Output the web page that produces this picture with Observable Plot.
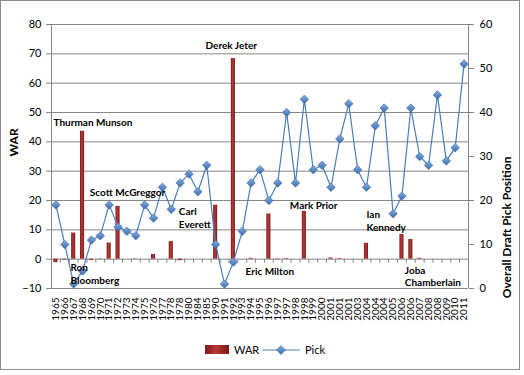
<!DOCTYPE html>
<html>
<head>
<meta charset="utf-8">
<script src="https://cdn.jsdelivr.net/npm/d3@7"></script>
<script src="https://cdn.jsdelivr.net/npm/@observablehq/plot@0.6"></script>
<style>
  html, body { margin: 0; padding: 0; background: #fff; }
  #wrap { position: relative; width: 524px; height: 375px; overflow: hidden; font-family: Lato, "Liberation Sans", sans-serif; }
  #border { position: absolute; left: 0; top: 0; width: 518px; height: 368px; border: 1px solid #8c8c8c; }
  #chart { position: absolute; left: 0; top: 0; }
  #legend { position: absolute; left: 0; top: 335px; }
</style>
</head>
<body>
<div id="wrap">
  <div id="border"></div>
  <div id="chart"></div>
  <svg id="legend" width="524" height="30"></svg>
</div>
<script>
// ---- data ----
const years = ["1965","1966","1967","1968","1969","1970","1971","1972","1973","1974",
  "1975","1976","1977","1978","1978","1980","1984","1985","1990","1991",
  "1992","1993","1994","1995","1996","1997","1997","1998","1998","1999",
  "2000","2001","2001","2001","2003","2004","2004","2004","2005","2006",
  "2006","2007","2008","2008","2009","2010","2011"];
const warValues = [-1.2,-0.3,8.9,43.6,-0.4,-0.1,5.5,18.0,0,-0.1,
  0,1.6,0,6.0,-0.5,0,0,0,18.4,0,
  68.4,0,0.3,0,15.4,-0.2,0.2,0,16.3,0,
  0,0.4,0.2,0,0,5.4,0,0,0,8.4,
  6.7,0.3,0,0,0,0,0];
const pickValues = [19,10,1,4,11,12,19,14,13,12,
  19,16,23,18,24,26,22,28,10,1,
  6,13,24,27,20,24,40,24,43,27,
  28,23,34,42,27,23,37,41,17,21,
  41,30,28,44,29,32,51];
const warTicks = [-10,0,10,20,30,40,50,60,70,80];
const pickTicks = [0,10,20,30,40,50,60];
const annoText = ["Thurman Munson","Ron\nBloomberg","Scott McGreggor","Carl\nEverett","Derek Jeter","Eric Milton","Mark Prior","Ian\nKennedy","Joba\nChamberlain"];
const annoX = [-0.27, 1.64, 3.82, 13.85, 16.86, 21.37, 26.36, 35.0, 39.32];
const annoY = [46.6, -4.85, 22.8, 14.2, 72.9, -4.1, 18.6, 13.2, -5.7];

// ---- derived ----
const data = years.map((y, i) => ({i, year: y, war: warValues[i], pick: pickValues[i]}));
const pickToWar = p => -10 + p * 90 / 60;   // right axis (0..60) mapped onto left axis (-10..80)
const annos = annoText.map((t, k) => ({t, x: annoX[k], y: annoY[k]}));
const diamond = {
  draw(ctx, size) {
    const s = Math.sqrt(size / 2);
    ctx.moveTo(0, -s); ctx.lineTo(s, 0); ctx.lineTo(0, s); ctx.lineTo(-s, 0); ctx.closePath();
  }
};
const grid = "#868686";

const chart = Plot.plot({
  width: 524,
  height: 340,
  marginLeft: 51,
  marginRight: 56,
  marginTop: 24,
  marginBottom: 52,
  x: {domain: [-0.5, years.length - 0.5]},
  y: {domain: [-10, 80]},
  style: {fontFamily: "Lato, 'Liberation Sans', sans-serif", fontSize: "11px", color: "#000", background: "transparent"},
  marks: [
    Plot.ruleY(warTicks, {stroke: grid, strokeWidth: 1}),
    Plot.ruleX([-0.5, years.length - 0.5], {stroke: grid}),
    Plot.ruleX(d3.range(years.length + 1).map(i => i - 0.5), {y1: 0, y2: -1.4, stroke: grid}),
    Plot.axisY(warTicks, {anchor: "left", tickSize: 5, tickPadding: 5, stroke: grid, label: null, fontSize: 11}),
    Plot.axisY(pickTicks.map(pickToWar), {anchor: "right", tickSize: 5, tickPadding: 6, stroke: grid, label: null, fontSize: 11,
      tickFormat: d => String(Math.round((d + 10) * 60 / 90))}),
    Plot.axisX(d3.range(years.length), {anchor: "bottom", tickSize: 0, tickPadding: 9, tickRotate: -90, label: null, fontSize: 10,
      tickFormat: i => years[i]}),
    Plot.rect(data, {x1: d => d.i - 0.23, x2: d => d.i + 0.23, y1: 0, y2: "war", fill: "url(#barGrad)"}),
    Plot.line(data, {x: "i", y: d => pickToWar(d.pick), stroke: "#4A7EBB", strokeWidth: 1.2}),
    Plot.dot(data, {x: "i", y: d => pickToWar(d.pick), symbol: diamond, r: 3.4, fill: "url(#dotGrad)", stroke: "#3B679E", strokeWidth: 0.6}),
    Plot.text(annos, {x: "x", y: "y", text: "t", textAnchor: "start", lineAnchor: "middle", fontWeight: "bold", fontSize: 10, lineHeight: 1.25, fill: "#000"}),
    Plot.text(["WAR"], {frameAnchor: "left", dx: -37, rotate: -90, fontWeight: "bold", fontSize: 12, fill: "#000"}),
    Plot.text(["Overall Draft Pick Position"], {frameAnchor: "right", dx: 39, rotate: -90, fontWeight: "bold", fontSize: 12, fill: "#000"})
  ]
});

function addDefs(svgSel) {
  const defs = svgSel.insert("defs", ":first-child");
  const bg = defs.append("linearGradient").attr("id", "barGrad").attr("x1", "0").attr("x2", "1").attr("y1", "0").attr("y2", "0");
  bg.append("stop").attr("offset", "0%").attr("stop-color", "#7a1818");
  bg.append("stop").attr("offset", "45%").attr("stop-color", "#b83a38");
  bg.append("stop").attr("offset", "100%").attr("stop-color", "#7a1818");
  const dg = defs.append("linearGradient").attr("id", "dotGrad").attr("x1", "0").attr("x2", "0").attr("y1", "0").attr("y2", "1");
  dg.append("stop").attr("offset", "0%").attr("stop-color", "#86aee0");
  dg.append("stop").attr("offset", "100%").attr("stop-color", "#3a6cae");
}
addDefs(d3.select(chart));
document.getElementById("chart").appendChild(chart);

// ---- legend ----
const lg = d3.select("#legend");
addDefs(lg);
lg.append("rect").attr("x", 205).attr("y", 10).attr("width", 24).attr("height", 9).attr("fill", "url(#barGrad)");
lg.append("text").attr("x", 234).attr("y", 19).attr("font-size", 11).attr("font-family", "Lato, sans-serif").text("WAR");
lg.append("line").attr("x1", 262).attr("x2", 300).attr("y1", 15).attr("y2", 15).attr("stroke", "#4A7EBB").attr("stroke-width", 1.2);
lg.append("path").attr("d", "M281,10.5L285.5,15L281,19.5L276.5,15Z").attr("fill", "url(#dotGrad)").attr("stroke", "#3B679E").attr("stroke-width", 0.6);
lg.append("text").attr("x", 305).attr("y", 19).attr("font-size", 11).attr("font-family", "Lato, sans-serif").text("Pick");
</script>
</body>
</html>
